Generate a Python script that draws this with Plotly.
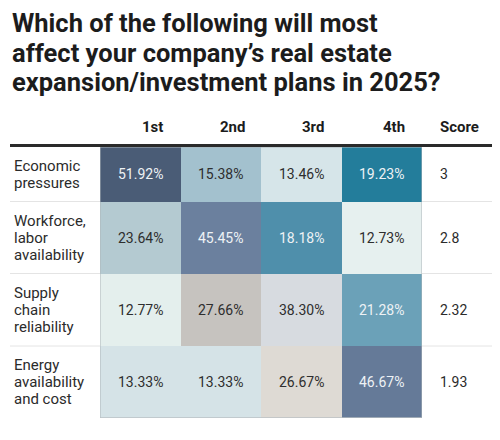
import plotly.graph_objects as go
import numpy as np

# data
factors = [["Economic", "pressures"],
           ["Workforce,", "labor", "availability"],
           ["Supply", "chain", "reliability"],
           ["Energy", "availability", "and cost"]]
ranks = ["1st", "2nd", "3rd", "4th"]
share_1st = [51.92, 23.64, 12.77, 13.33]
share_2nd = [15.38, 45.45, 27.66, 13.33]
share_3rd = [13.46, 18.18, 38.30, 26.67]
share_4th = [19.23, 12.73, 21.28, 46.67]
scores = [3, 2.8, 2.32, 1.93]

title_lines = ["Which of the following will most",
               "affect your company’s real estate",
               "expansion/investment plans in 2025?"]

# cell fills (row by row), not a continuous scale in the original
cell_colors = [
    ["#4a5c76", "#a3c1ce", "#d6e5e9", "#237d9b"],
    ["#b4cad1", "#6b809e", "#4f8fab", "#e6f0ef"],
    ["#e4efed", "#c6c3bf", "#d7dbe0", "#6ba1b8"],
    ["#d5e3e7", "#d5e3e7", "#dedad4", "#657a98"],
]
row_heights = [54.5, 72, 72.5, 71.7]  # px, first row is shorter

# the page body has an 8px margin, so the figure is drawn 8px in and down
OFF = 8
W, H = 500 - OFF, 440 - OFF
FONT = "Roboto"


def px(x):
    return (x - OFF) / W


def py(y):
    return 1 - (y - OFF) / H


values = np.array([share_1st, share_2nd, share_3rd, share_4th]).T  # rows x cols
n_rows, n_cols = values.shape

x_edges = np.arange(n_cols + 1)
y_edges = np.concatenate([[0], np.cumsum(row_heights)])
x_mid = (x_edges[:-1] + x_edges[1:]) / 2
y_mid = (y_edges[:-1] + y_edges[1:]) / 2

# one colour index per cell, mapped through a stepped colour scale
flat = [c for row in cell_colors for c in row]
z = np.arange(len(flat)).reshape(n_rows, n_cols)
cscale = [[i / (len(flat) - 1), c] for i, c in enumerate(flat)]


def lum(hexcol):
    r, g, b = (int(hexcol[i:i + 2], 16) for i in (1, 3, 5))
    return 0.299 * r + 0.587 * g + 0.114 * b


fig = go.Figure(go.Heatmap(
    x=x_edges, y=y_edges, z=z, colorscale=cscale, zmin=0, zmax=len(flat) - 1,
    showscale=False, hoverinfo="skip",
))

top_px, bottom_px = 147, 147 + sum(row_heights)
left_px, right_px = 100, 422

fig.update_layout(
    width=W, height=H, margin=dict(l=0, r=0, t=0, b=0),
    paper_bgcolor="white", plot_bgcolor="white",
    font=dict(family=FONT, color="#2b2b2b"),
    xaxis=dict(domain=[px(left_px), px(right_px)], range=[0, n_cols],
               visible=False, fixedrange=True),
    yaxis=dict(domain=[py(bottom_px), py(top_px)], range=[y_edges[-1], 0],
               visible=False, fixedrange=True),
    showlegend=False,
)

ann = []
# title, one annotation per line to keep the tight leading
for k, line in enumerate(title_lines):
    ann.append(dict(text="<b>" + line + "</b>", xref="paper", yref="paper",
                    x=px(10), y=py(23 + 29.5 * k), xanchor="left", yanchor="middle",
                    showarrow=False, font=dict(size=25.5, color="#1c1c1c")))
# column headers
for j, r in enumerate(ranks):
    ann.append(dict(text="<b>" + r + "</b>", xref="x", yref="paper", x=x_mid[j],
                    y=py(127), xshift=12, xanchor="center", yanchor="middle",
                    showarrow=False, font=dict(size=15, color="#1c1c1c")))
ann.append(dict(text="<b>Score</b>", xref="paper", yref="paper", x=px(438),
                y=py(127), xanchor="left", yanchor="middle", showarrow=False,
                font=dict(size=15, color="#1c1c1c")))
# row labels, scores and cell values
for i in range(n_rows):
    n_lines = len(factors[i])
    for k, line in enumerate(factors[i]):
        ann.append(dict(text=line, xref="paper", yref="y", x=px(12), y=y_mid[i],
                        yshift=-(k - (n_lines - 1) / 2) * 17, xanchor="left",
                        yanchor="middle", showarrow=False,
                        font=dict(size=15, color="#2b2b2b")))
    ann.append(dict(text=f"{scores[i]:g}", xref="paper", yref="y", x=px(438),
                    y=y_mid[i], xanchor="left", yanchor="middle", showarrow=False,
                    font=dict(size=14, color="#2b2b2b")))
    for j in range(n_cols):
        col = "#eef2f5" if lum(cell_colors[i][j]) < 170 else "#2e2e2e"
        ann.append(dict(text=f"{values[i, j]:.2f}%", xref="x", yref="y",
                        x=x_mid[j], y=y_mid[i], xanchor="center", yanchor="middle",
                        showarrow=False, font=dict(size=14, color=col)))
fig.update_layout(annotations=ann)

shapes = []
# light row separators across the whole table
for e in y_edges[1:-1]:
    shapes.append(dict(type="line", xref="paper", yref="y", x0=px(10), x1=1,
                       y0=e, y1=e, line=dict(color="#e4e4e4", width=1), layer="below"))
# heavy header rule
shapes.append(dict(type="line", xref="paper", yref="paper", x0=px(10), x1=1,
                   y0=py(145.5), y1=py(145.5), line=dict(color="#2a2a2a", width=3)))
# thin outline round the coloured block
shapes.append(dict(type="rect", xref="x", yref="y", x0=0, x1=n_cols,
                   y0=0, y1=y_edges[-1], line=dict(color="#aeb6ba", width=1)))
fig.update_layout(shapes=shapes)

fig.write_html("out.html")
